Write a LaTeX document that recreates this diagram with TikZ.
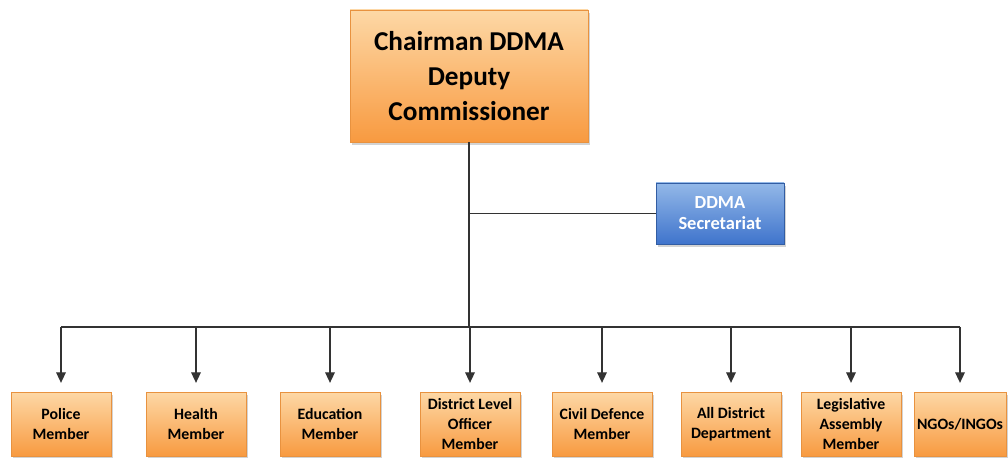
\documentclass[tikz,border=0pt]{standalone}
\usepackage{fontspec}
\setmainfont{Carlito}
\usetikzlibrary{positioning, arrows.meta, shadows}

\definecolor{boxtop}{HTML}{FDD8A6}
\definecolor{boxbot}{HTML}{F89A40}
\definecolor{boxedge}{HTML}{E8923F}
\definecolor{bluetop}{HTML}{93B8E8}
\definecolor{bluebot}{HTML}{3F74CC}

\begin{document}
\begin{tikzpicture}[
  orgbox/.style={draw=boxedge, thin, top color=boxtop, bottom color=boxbot,
    align=center, inner sep=1pt, font=\bfseries,
    drop shadow={opacity=0.35, shadow xshift=1.2pt, shadow yshift=-1.6pt}},
  member/.style={orgbox, minimum width=2cm, minimum height=1.28cm,
    font=\fontsize{9}{11.2}\selectfont\bfseries},
  secbox/.style={orgbox, draw=bluebot!80!black, top color=bluetop, bottom color=bluebot,
    text=white, minimum width=2.56cm, minimum height=1.22cm,
    font=\fontsize{10.5}{12}\selectfont\bfseries},
  link/.style={draw=black!80, line width=0.7pt},
  downarrow/.style={link, -{Triangle[length=6pt, width=5.5pt]}, shorten >=5pt}
]
\useasboundingbox (0,0) rectangle (20.16,-9.16);

% Head of the authority
\node[orgbox, minimum width=4.76cm, minimum height=2.64cm,
      font=\fontsize{15.5}{20}\selectfont\bfseries] (chair) at (9.38,-1.52)
  {Chairman DDMA\\Deputy\\Commissioner};

% Secretariat on the side
\node[secbox] (secretariat) at (14.4,-4.27) {DDMA\\Secretariat};

% Members in the bottom row
\node[member] (police)  at (1.22,-8.48)  {Police\\Member};
\node[member] (health)  at (3.92,-8.48)  {Health\\Member};
\node[member] (edu)     at (6.60,-8.48)  {Education\\Member};
\node[member] (dlo)     at (9.40,-8.48)  {District Level\\Officer\\Member};
\node[member] (civil)   at (12.04,-8.48) {Civil Defence\\Member};
\node[member] (alldept) at (14.62,-8.48) {All District\\Department};
\node[member] (mla)     at (17.02,-8.48) {Legislative\\Assembly\\Member};
\node[member, minimum width=1.84cm] (ngo) at (19.20,-8.48) {NGOs/INGOs};

% Trunk and bus
\coordinate (bus) at (9.38,-6.54);
\coordinate (secjoin) at (9.38,-4.27);
\draw[link] (chair.south) -- (bus);
\draw[link] (secjoin) -- (secretariat.west);
\draw[link] (police.north |- bus) -- (ngo.north |- bus);

% Arrows down to each member
\foreach \m in {police, health, edu, dlo, civil, alldept, mla, ngo}
  \draw[downarrow] (\m.north |- bus) -- (\m.north);

\end{tikzpicture}
\end{document}
